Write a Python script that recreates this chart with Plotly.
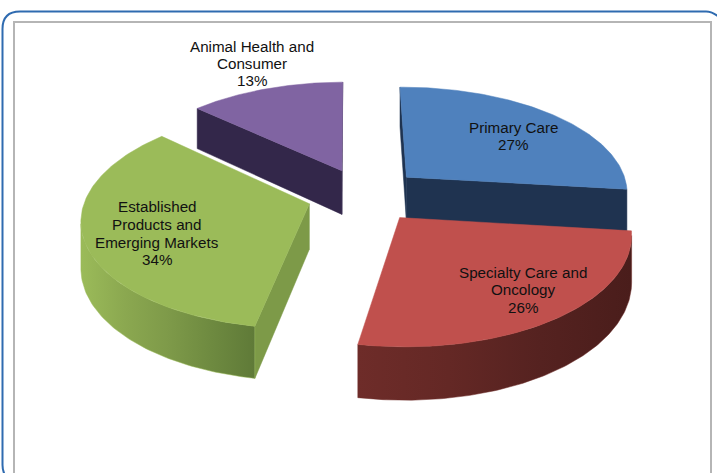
import math
import plotly.graph_objects as go

# ---- data ----
categories = ["Primary Care", "Specialty Care and Oncology",
              "Established Products and Emerging Markets", "Animal Health and Consumer"]
shares = [27, 26, 34, 13]
label_lines = [["Primary Care", "27%"],
               ["Specialty Care and", "Oncology", "26%"],
               ["Established", "Products and", "Emerging Markets", "34%"],
               ["Animal Health and", "Consumer", "13%"]]
label_x = [513, 523, 157, 252]
label_y = [[127, 144], [272, 289, 307], [206, 224, 242, 259], [46, 63, 80]]
top_colors = ["#4F81BD", "#C0504D", "#9BBB59", "#8064A2"]
cut_colors = ["#1F3350", "#4E1F1D", "#7D9A48", "#33274A"]
wall_scales = [
    ["#22385A", "#1F3350"],
    ["#6E2C29", "#642825", "#552220", "#4A1D1B"],
    ["#9BBB59", "#8BA850", "#7E9A49", "#6E8A40", "#5F7A38"],
    ["#33274A", "#33274A"],
]

# ---- projection of the tilted, exploded pie ----
CX, CY, RX, TILT, PERSP, DEPTH, EXPLODE = 364.5, 195, 223, 106, 0.13, 45, 0.258
ROTATION = math.radians(-0.5)


def project(X, Y, drop=0.0):
    s = 1 / (1 + PERSP * Y)
    return CX + X * RX * s, CY - Y * TILT * s + drop * s


fig = go.Figure()


def poly(pts, color=None, scale=None):
    xs = [p[0] for p in pts] + [pts[0][0]]
    ys = [p[1] for p in pts] + [pts[0][1]]
    kw = dict(fillcolor=color) if color else dict(fillgradient=dict(
        type="horizontal",
        colorscale=[[i / (len(scale) - 1), c] for i, c in enumerate(scale)]))
    fig.add_trace(go.Scatter(x=xs, y=ys, mode="lines", fill="toself",
                             line=dict(width=0.5, color=color or scale[0]),
                             hoverinfo="skip", showlegend=False, **kw))


cum = 0
slices = []
for v in shares:
    a0 = cum / sum(shares) * 2 * math.pi + ROTATION
    a1 = (cum + v) / sum(shares) * 2 * math.pi + ROTATION
    slices.append((a0, a1))
    cum += v

EYE = (0.0, -1 / PERSP)


def faces_eye(point, normal):
    return (EYE[0] - point[0]) * normal[0] + (EYE[1] - point[1]) * normal[1] > 0


for i in [3, 0, 2, 1]:
    a0, a1 = slices[i]
    mid = (a0 + a1) / 2
    ox, oy = EXPLODE * math.sin(mid), EXPLODE * math.cos(mid)
    n = 120
    angs = [a0 + (a1 - a0) * k / n for k in range(n + 1)]
    rim = [(ox + math.sin(a), oy + math.cos(a)) for a in angs]
    apex = (ox, oy)

    # cut faces, kept only when their outward normal faces the eye
    normals = [(-math.cos(a0), math.sin(a0)), (math.cos(a1), -math.sin(a1))]
    for edge, nrm in zip((rim[0], rim[-1]), normals):
        if faces_eye(apex, nrm):
            poly([project(*apex), project(*edge), project(*edge, DEPTH), project(*apex, DEPTH)], cut_colors[i])
    # outer wall (part of the rim that faces the eye)
    front = [p for p, a in zip(rim, angs) if faces_eye(p, (math.sin(a), math.cos(a)))]
    if len(front) > 1:
        wall = [project(*p) for p in front] + [project(*p, DEPTH) for p in reversed(front)]
        poly(wall, scale=wall_scales[i])
    # top face
    poly([project(*apex)] + [project(*p) for p in rim], top_colors[i])

# ---- labels ----
for lines, x, ys in zip(label_lines, label_x, label_y):
    for line, y in zip(lines, ys):
        fig.add_annotation(x=x, y=y, text=line, showarrow=False,
                           xanchor="center", yanchor="middle", align="center",
                           font=dict(family="Liberation Sans", size=15.2, color="#111111"))

# ---- frames ----
fig.add_shape(type="rect", x0=14, y0=22, x1=711, y1=490, line=dict(color="#B5B5B5", width=2), layer="below")
fig.add_shape(type="path",
              path="M 2.5 29 Q 2.5 11.5 20 11.5 L 706 11.5 Q 714 11.5 722 20 "
                   "M 2.5 29 L 2.5 465 Q 2.5 471 5 475",
              line=dict(color="#2F6BB0", width=2), layer="below")

fig.update_layout(
    width=717, height=473, margin=dict(l=0, r=0, t=0, b=0),
    paper_bgcolor="white", plot_bgcolor="white", showlegend=False,
    xaxis=dict(range=[0, 717], visible=False, fixedrange=True),
    yaxis=dict(range=[473, 0], visible=False, fixedrange=True),
)
fig.write_html("out.html", config={"displayModeBar": False},
               post_script="document.body.style.margin='0';document.body.style.overflow='hidden';")
